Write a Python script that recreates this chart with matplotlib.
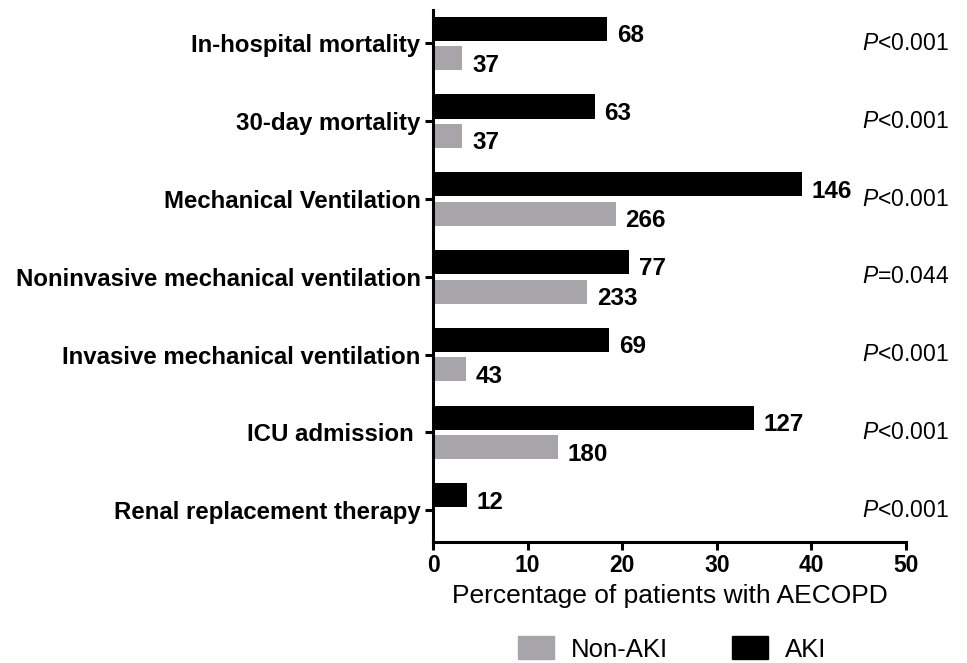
import numpy as np
import matplotlib.pyplot as plt
import matplotlib.transforms as mtransforms
from matplotlib.patches import Patch

# data
categories = ['In-hospital mortality', '30-day mortality', 'Mechanical Ventilation',
              'Noninvasive mechanical ventilation', 'Invasive mechanical ventilation',
              'ICU admission ', 'Renal replacement therapy']
aki_pct = [18.4, 17.1, 39.0, 20.7, 18.6, 33.9, 3.6]
nonaki_pct = [3.1, 3.1, 19.3, 16.3, 3.5, 13.2, 0.0]
aki_n = ['68', '63', '146', '77', '69', '127', '12']
nonaki_n = ['37', '37', '266', '233', '43', '180', '']
p_values = ['<0.001', '<0.001', '<0.001', '=0.044', '<0.001', '<0.001', '<0.001']

plt.rcParams['font.family'] = ['Liberation Sans', 'DejaVu Sans']
plt.rcParams['mathtext.fontset'] = 'custom'
plt.rcParams['mathtext.it'] = 'Liberation Sans:italic'
plt.rcParams['mathtext.rm'] = 'Liberation Sans'

grey = '#a7a5aa'
fig = plt.figure(figsize=(9.67, 6.63), dpi=100)
ax = fig.add_axes([433/967, 1-542/663, (906-433)/967, (542-10)/663])

y = np.arange(len(categories))[::-1].astype(float)
h = 0.31
ax.barh(y + 0.19, aki_pct, height=h, color='black')
ax.barh(y - 0.19, nonaki_pct, height=h, color=grey)

for yi, v, lab in zip(y, aki_pct, aki_n):
    ax.annotate(lab, (v, yi + 0.19), xytext=(7, -5), textcoords='offset points',
                ha='left', va='center', fontsize=17.5, fontweight='bold')
for yi, v, lab in zip(y, nonaki_pct, nonaki_n):
    if lab:
        ax.annotate(lab, (v, yi - 0.19), xytext=(7, -5), textcoords='offset points',
                    ha='left', va='center', fontsize=17.5, fontweight='bold')

# p-values at right edge of figure
ptrans = mtransforms.blended_transform_factory(fig.transFigure, ax.transData)
for yi, p in zip(y, p_values):
    ax.text(949/967, yi, '$\\it{P}$' + p, transform=ptrans,
            ha='right', va='center', fontsize=16.5)

ax.set_xlim(0, 50)
ax.set_ylim(-0.41, 6.43)
ax.set_xticks([0, 10, 20, 30, 40, 50])
ax.set_yticks(y)
ax.set_yticklabels(categories)
for s in ['top', 'right']:
    ax.spines[s].set_visible(False)
for s in ['left', 'bottom']:
    ax.spines[s].set_linewidth(2.2)
ax.tick_params(axis='both', width=2.2, length=6)
ax.tick_params(axis='y', labelsize=17.3, pad=3)
ax.tick_params(axis='x', labelsize=16.5, pad=3)
for t in ax.get_yticklabels() + ax.get_xticklabels():
    t.set_fontweight('bold')
ax.set_xlabel('Percentage of patients with AECOPD', fontsize=19, labelpad=5)

handles = [Patch(color=grey, label='Non-AKI'), Patch(color='black', label='AKI')]
fig.legend(handles=handles, loc='center', bbox_to_anchor=(672/967, 1-649/663), ncol=2,
           frameon=False, fontsize=18.5, handlelength=1.4, handleheight=1.0,
           columnspacing=2.5, handletextpad=0.65)

fig.savefig('out.png', dpi=100)
